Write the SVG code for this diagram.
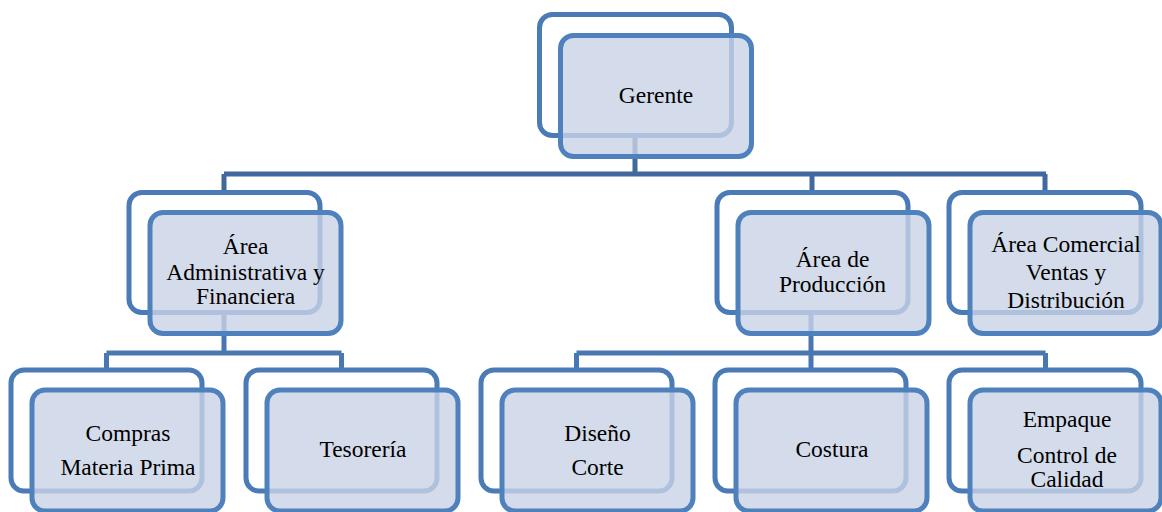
<svg xmlns="http://www.w3.org/2000/svg" width="1162" height="512" viewBox="0 0 1162 512">
<style>
.back{fill:none;stroke:#4a7bb7;stroke-width:5}
.front{fill:#c9d3e6;fill-opacity:0.8;stroke:#4f81bd;stroke-width:5}
.c1{fill:none;stroke:#41699f;stroke-width:5}
.c2{fill:none;stroke:#4877b2;stroke-width:5}
.t{font-family:'Liberation Serif','Times New Roman','DejaVu Serif',serif;font-size:23.5px;fill:#000;text-anchor:middle}
</style>
<rect width="1162" height="512" fill="#fff"/>
<g id="connectors">
<path class="c1" d="M635 135.5V174M224 174H1046M224 174V192.5M812 174V192.5M1045 174V192.5"/>
<path class="c2" d="M224 312.5V353M106.5 353H341.5M106.5 353V370M341.5 353V370"/>
<path class="c2" d="M811 312.5V353M576.5 353H1045.5M576.5 353V370M811 353V370M1045.5 353V370"/>
</g>
<g id="gerente">
<rect class="back" x="539.5" y="14.5" width="192" height="121" rx="13"/>
<rect class="front" x="560.5" y="35.5" width="191" height="121" rx="13"/>
<text class="t" x="656" y="103" font-family="Liberation Serif, serif">Gerente</text>
</g>
<g id="area-administrativa">
<rect class="back" x="129" y="192.5" width="191" height="120" rx="13"/>
<rect class="front" x="150" y="212.5" width="191" height="121" rx="13"/>
<text class="t" x="245.5" y="254">Área</text>
<text class="t" x="245.5" y="280">Administrativa y</text>
<text class="t" x="245.5" y="304">Financiera</text>
</g>
<g id="area-produccion">
<rect class="back" x="717" y="192.5" width="191" height="120" rx="13"/>
<rect class="front" x="738" y="212.5" width="191" height="121" rx="13"/>
<text class="t" x="832.5" y="267">Área de</text>
<text class="t" x="832.5" y="292">Producción</text>
</g>
<g id="area-comercial">
<rect class="back" x="949" y="192.5" width="192" height="120" rx="13"/>
<rect class="front" x="970" y="212.5" width="191" height="121" rx="13"/>
<text class="t" x="1066" y="252">Área Comercial</text>
<text class="t" x="1066" y="280">Ventas y</text>
<text class="t" x="1066" y="308">Distribución</text>
</g>
<g id="compras">
<rect class="back" x="11" y="370" width="191" height="121" rx="13"/>
<rect class="front" x="32" y="390" width="191" height="121" rx="13"/>
<text class="t" x="128" y="441">Compras</text>
<text class="t" x="128" y="475">Materia Prima</text>
</g>
<g id="tesoreria">
<rect class="back" x="246" y="370" width="191" height="121" rx="13"/>
<rect class="front" x="267" y="390" width="191" height="121" rx="13"/>
<text class="t" x="363" y="457">Tesorería</text>
</g>
<g id="diseno">
<rect class="back" x="481" y="370" width="191" height="121" rx="13"/>
<rect class="front" x="502" y="390" width="191" height="121" rx="13"/>
<text class="t" x="597.5" y="441">Diseño</text>
<text class="t" x="597.5" y="475">Corte</text>
</g>
<g id="costura">
<rect class="back" x="715" y="370" width="191" height="121" rx="13"/>
<rect class="front" x="736" y="390" width="191" height="121" rx="13"/>
<text class="t" x="832" y="457">Costura</text>
</g>
<g id="empaque">
<rect class="back" x="949" y="370" width="192" height="121" rx="13"/>
<rect class="front" x="970" y="390" width="191" height="121" rx="13"/>
<text class="t" x="1067" y="427">Empaque</text>
<text class="t" x="1067" y="463">Control de</text>
<text class="t" x="1067" y="487">Calidad</text>
</g>
</svg>
